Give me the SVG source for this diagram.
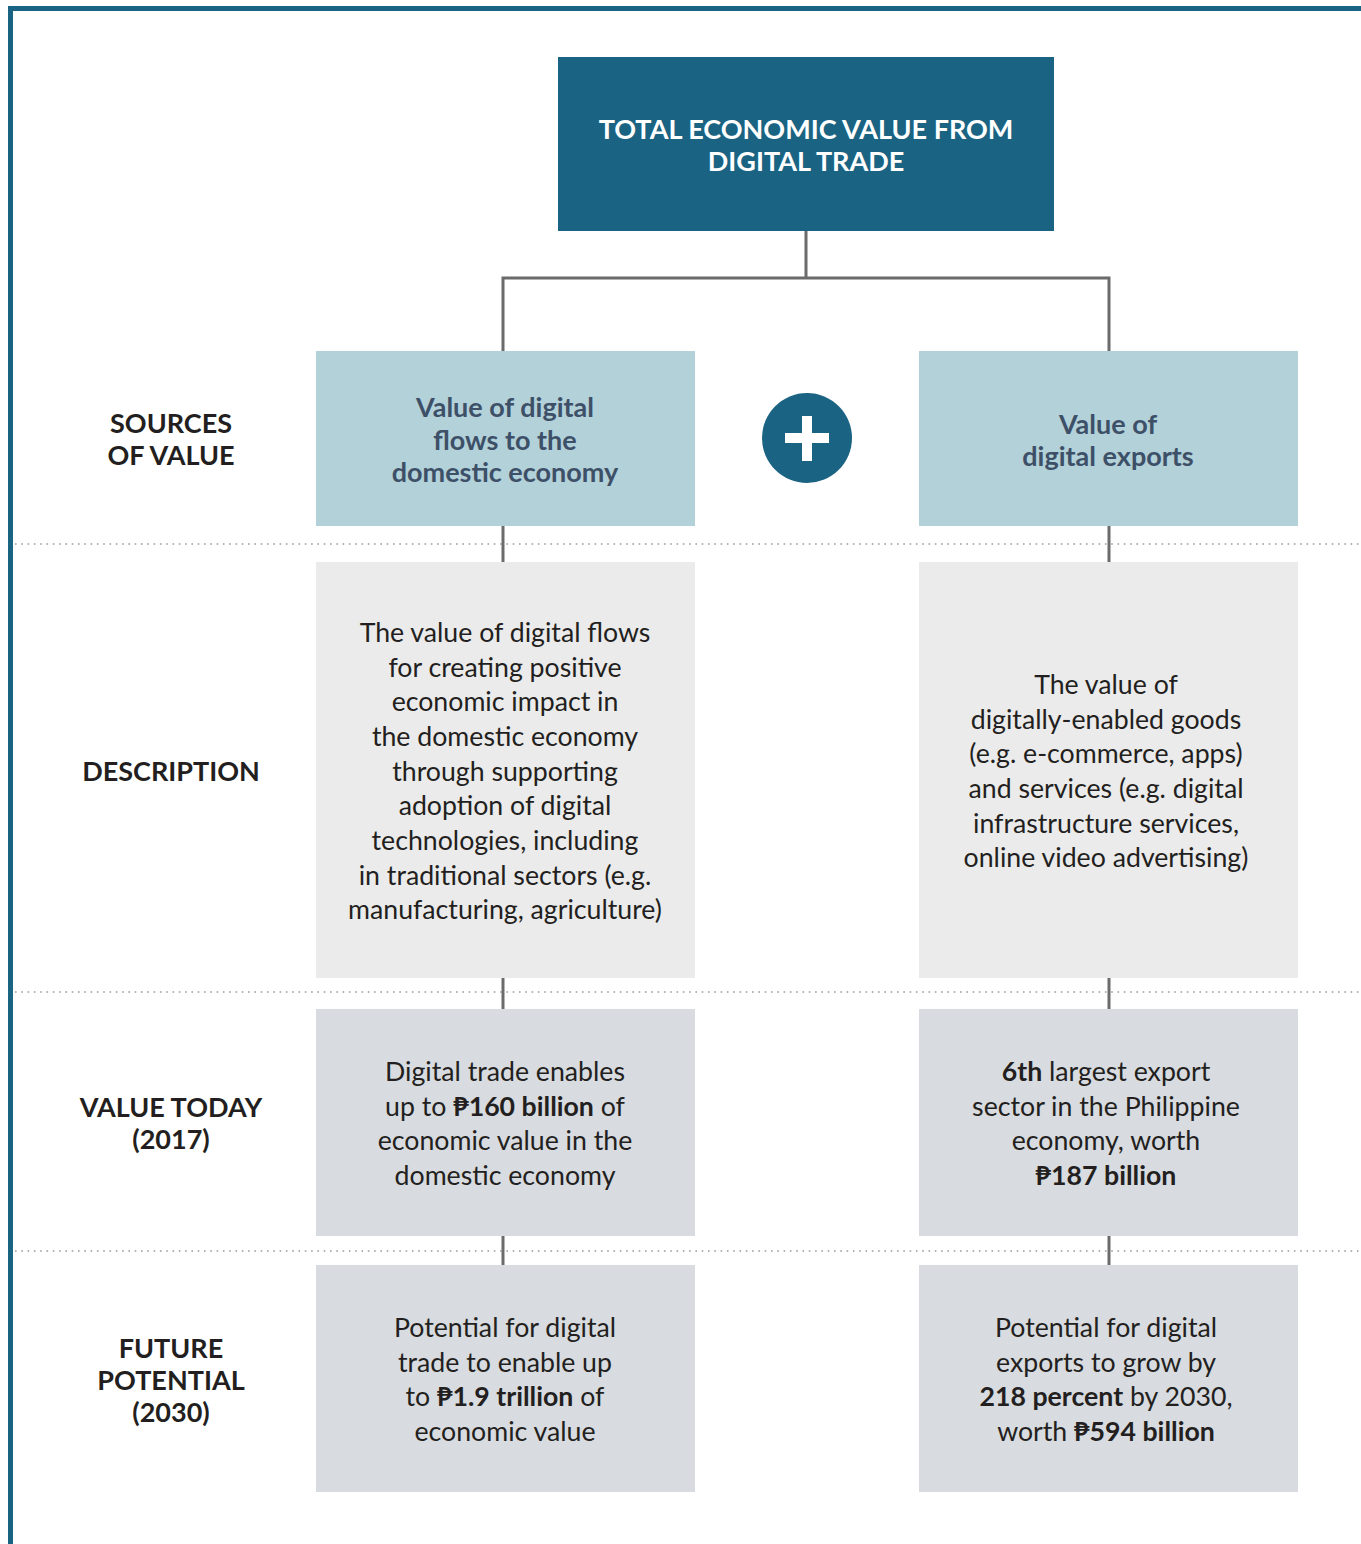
<svg xmlns="http://www.w3.org/2000/svg" width="1361" height="1544" viewBox="0 0 1361 1544">
<style>
text{font-family:Lato,"Open Sans","Liberation Sans",sans-serif;text-anchor:middle}
.lbl{font-size:27px;font-weight:700;fill:#231f20}
.hdr{font-size:27px;font-weight:700;fill:#3d5068}
.body{font-size:26.7px;font-weight:400;fill:#231f20}
.b{font-weight:700}
.ttl{font-size:27px;font-weight:700;fill:#ffffff}
.dot{stroke:#9a9a9a;stroke-width:1.6;stroke-dasharray:1.6 4.7;fill:none}
.con{stroke:#6b6b6b;stroke-width:3;fill:none}
</style>
<rect width="1361" height="1544" fill="#ffffff"/>
<g id="frame" fill="#1a6382">
<rect x="8" y="6" width="1353" height="5"/>
<rect x="8" y="6" width="5" height="1538"/>
</g>
<g id="dividers">
<line class="dot" x1="15" y1="544" x2="1361" y2="544"/>
<line class="dot" x1="15" y1="992" x2="1361" y2="992"/>
<line class="dot" x1="15" y1="1251" x2="1361" y2="1251"/>
</g>
<g id="connectors">
<polyline class="con" points="806,231 806,278"/>
<polyline class="con" points="503,351 503,278 1109,278 1109,351"/>
<line class="con" x1="503" y1="526" x2="503" y2="562"/>
<line class="con" x1="503" y1="978" x2="503" y2="1009"/>
<line class="con" x1="503" y1="1236" x2="503" y2="1265"/>
<line class="con" x1="1109" y1="526" x2="1109" y2="562"/>
<line class="con" x1="1109" y1="978" x2="1109" y2="1009"/>
<line class="con" x1="1109" y1="1236" x2="1109" y2="1265"/>
</g>
<g id="row-labels">
<text class="lbl"><tspan x="171" y="433">SOURCES</tspan><tspan x="171" y="465">OF VALUE</tspan></text>
<text class="lbl" x="171" y="781">DESCRIPTION</text>
<text class="lbl"><tspan x="171" y="1117">VALUE TODAY</tspan><tspan x="171" y="1149">(2017)</tspan></text>
<text class="lbl"><tspan x="171" y="1358">FUTURE</tspan><tspan x="171" y="1390">POTENTIAL</tspan><tspan x="171" y="1422">(2030)</tspan></text>
</g>
<g id="total">
<rect x="558" y="57" width="496" height="174" fill="#1a6382"/>
<text class="ttl"><tspan x="806" y="139">TOTAL ECONOMIC VALUE FROM</tspan><tspan x="806" y="171">DIGITAL TRADE</tspan></text>
</g>
<g id="plus">
<circle cx="807" cy="438" r="45" fill="#1a6382"/>
<rect x="785" y="433" width="44" height="10" fill="#ffffff"/>
<rect x="802" y="416" width="10" height="45" fill="#ffffff"/>
</g>
<g id="src-domestic">
<rect x="316" y="351" width="379" height="175" fill="#b3d1d9"/>
<text class="hdr"><tspan x="505" y="417">Value of digital</tspan><tspan x="505" y="450">flows to the</tspan><tspan x="505" y="482">domestic economy</tspan></text>
</g>
<g id="src-exports">
<rect x="919" y="351" width="379" height="175" fill="#b3d1d9"/>
<text class="hdr"><tspan x="1108" y="434">Value of</tspan><tspan x="1108" y="466">digital exports</tspan></text>
</g>
<g id="desc-domestic">
<rect x="316" y="562" width="379" height="416" fill="#ebebeb"/>
<text class="body"><tspan x="505" y="642">The value of digital flows</tspan><tspan x="505" y="677">for creating positive</tspan><tspan x="505" y="711">economic impact in</tspan><tspan x="505" y="746">the domestic economy</tspan><tspan x="505" y="781">through supporting</tspan><tspan x="505" y="815">adoption of digital</tspan><tspan x="505" y="850">technologies, including</tspan><tspan x="505" y="885">in traditional sectors (e.g.</tspan><tspan x="505" y="919">manufacturing, agriculture)</tspan></text>
</g>
<g id="desc-exports">
<rect x="919" y="562" width="379" height="416" fill="#ebebeb"/>
<text class="body"><tspan x="1106" y="694">The value of</tspan><tspan x="1106" y="729">digitally-enabled goods</tspan><tspan x="1106" y="763">(e.g. e-commerce, apps)</tspan><tspan x="1106" y="798">and services (e.g. digital</tspan><tspan x="1106" y="833">infrastructure services,</tspan><tspan x="1106" y="867">online video advertising)</tspan></text>
</g>
<g id="today-domestic">
<rect x="316" y="1009" width="379" height="227" fill="#d8dbdf"/>
<text class="body"><tspan x="505" y="1081">Digital trade enables</tspan><tspan x="505" y="1116">up to <tspan class="b">₱160 billion</tspan> of</tspan><tspan x="505" y="1150">economic value in the</tspan><tspan x="505" y="1185">domestic economy</tspan></text>
</g>
<g id="today-exports">
<rect x="919" y="1009" width="379" height="227" fill="#d8dbdf"/>
<text class="body"><tspan x="1106" y="1081"><tspan class="b">6th</tspan> largest export</tspan><tspan x="1106" y="1116">sector in the Philippine</tspan><tspan x="1106" y="1150">economy, worth</tspan><tspan x="1106" y="1185" class="b">₱187 billion</tspan></text>
</g>
<g id="future-domestic">
<rect x="316" y="1265" width="379" height="227" fill="#d8dbdf"/>
<text class="body"><tspan x="505" y="1337">Potential for digital</tspan><tspan x="505" y="1372">trade to enable up</tspan><tspan x="505" y="1406">to <tspan class="b">₱1.9 trillion</tspan> of</tspan><tspan x="505" y="1441">economic value</tspan></text>
</g>
<g id="future-exports">
<rect x="919" y="1265" width="379" height="227" fill="#d8dbdf"/>
<text class="body"><tspan x="1106" y="1337">Potential for digital</tspan><tspan x="1106" y="1372">exports to grow by</tspan><tspan x="1106" y="1406"><tspan class="b">218 percent</tspan> by 2030,</tspan><tspan x="1106" y="1441">worth <tspan class="b">₱594 billion</tspan></tspan></text>
</g>
</svg>
